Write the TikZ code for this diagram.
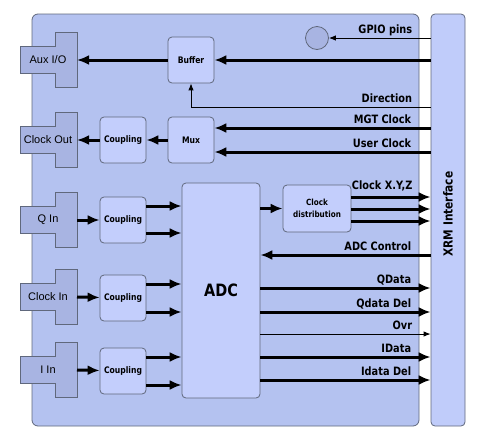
\documentclass[tikz,border=0pt]{standalone}
\usepackage{fontspec}
\setmainfont{Liberation Sans}
\newfontfamily\lbl[FakeStretch=0.85]{DejaVu Sans}
\usetikzlibrary{arrows.meta}

\definecolor{boardblue}{RGB}{180,194,240}
\definecolor{boxblue}{RGB}{195,206,252}
\definecolor{xrmblue}{RGB}{192,204,250}
\definecolor{jackblue}{RGB}{168,180,226}
\definecolor{edgegray}{RGB}{96,104,124}

\begin{document}
\begin{tikzpicture}[x=1pt,y=-1pt]

  %Styles for picture
  \tikzset
  {
  board/.style={draw=edgegray, fill=boardblue, rounded corners=6pt, line width=0.8pt},
  xrmbar/.style={draw=edgegray, fill=xrmblue, rounded corners=4pt, minimum width=34pt, minimum height=412pt, inner sep=0pt, line width=0.8pt},
  block/.style={draw=edgegray, fill=boxblue, rounded corners=4pt, minimum width=46pt, minimum height=46pt, inner sep=0pt, line width=0.8pt, align=center, font=\lbl\bfseries\fontsize{9}{11}\selectfont},
  jack/.style={draw=edgegray, fill=jackblue, line width=0.8pt},
  jacktext/.style={inner sep=0pt, font=\fontsize{11}{13}\selectfont},
  bigarrow/.style={line width=3pt, -{Latex[length=12pt,width=10pt]}},
  thinarrow/.style={line width=0.9pt, -{Latex[length=7pt,width=5.5pt]}},
  siglabel/.style={anchor=base east, xshift=-18pt, yshift=5pt, inner sep=0pt, font=\lbl\bfseries\fontsize{11.5}{13}\selectfont},
  }

  \useasboundingbox (0,0) rectangle (482,445);

  % Board
  \draw[board] (32,14) rectangle (419,426);

  % Jacks
  \foreach \name/\y/\txt in {auxio/60/{Aux I/O}, clkout/140/{Clock Out}, qin/220/{Q In}, clkin/297/{Clock In}, iin/370/{I In}}
  {
    \draw[jack] (77,\y-27.5) -- (55,\y-27.5) -- (55,\y-13.5) -- (20,\y-13.5) -- (20,\y+13.5) -- (55,\y+13.5) -- (55,\y+27.5) -- (77,\y+27.5) -- cycle;
    \node[jacktext] at (48,\y) {\txt};
    \coordinate (\name) at (77,\y);
  }

  % Nodes
  \node[block] (buf) at (191,60) {Buffer};
  \node[block] (mux) at (191,140) {Mux};
  \node[block] (cplout) at (123,140) {Coupling};
  \node[block] (cplq) at (123,220) {Coupling};
  \node[block] (cplclk) at (123,298) {Coupling};
  \node[block] (cpli) at (123,371) {Coupling};
  \node[block, minimum width=78pt, minimum height=215pt, font=\lbl\bfseries\fontsize{17}{19}\selectfont] (adc) at (221,290.5) {ADC};
  \node[block, minimum width=68pt, minimum height=47pt, font=\lbl\bfseries\fontsize{8.5}{12.5}\selectfont] (clkdist) at (317,208.5) {Clock\\distribution};
  \node[circle, draw=edgegray, fill=jackblue, minimum size=23pt, inner sep=0pt, line width=0.8pt] (gpio) at (317,38) {};
  \node[xrmbar] (xrm) at (448,220) {};
  \node[rotate=90, inner sep=0pt, font=\lbl\bfseries\fontsize{12.5}{14}\selectfont] (xrmtext) at (448,214) {XRM Interface};

  % Edges
  \draw[thinarrow] (xrm.west |- gpio) -- (gpio) node[siglabel, pos=0] {GPIO pins};
  \draw[bigarrow] (xrm.west |- buf) -- (buf);
  \draw[bigarrow] (buf) -- (auxio);
  \draw[thinarrow] (xrm.west |- 0,107) -| (buf.south) node[siglabel, pos=0] {Direction};
  \draw[bigarrow] (xrm.west |- 0,128) -- (mux.east |- 0,128) node[siglabel, pos=0] {MGT Clock};
  \draw[bigarrow] (xrm.west |- 0,152) -- (mux.east |- 0,152) node[siglabel, pos=0] {User Clock};
  \draw[bigarrow] (mux) -- (cplout);
  \draw[bigarrow] (cplout) -- (clkout);
  \draw[bigarrow] (qin) -- (cplq);
  \draw[bigarrow] (clkin) -- (cplclk);
  \draw[bigarrow] (iin) -- (cpli);
  \foreach \cpl/\ya/\yb in {cplq/206/233, cplclk/284/312, cpli/357/385}
  {
    \draw[bigarrow] (\cpl.east |- 0,\ya) -- (adc.west |- 0,\ya);
    \draw[bigarrow] (\cpl.east |- 0,\yb) -- (adc.west |- 0,\yb);
  }
  \draw[bigarrow] (adc.east |- clkdist) -- (clkdist);
  \foreach \y in {197,209,221}
    \draw[bigarrow] (clkdist.east |- 0,\y) -- (xrm.west |- 0,\y);
  \node[siglabel, yshift=3pt] (clkxyz) at (xrm.west |- 0,197) {Clock X.Y,Z};
  \draw[bigarrow] (xrm.west |- 0,255) -- (adc.east |- 0,255) node[siglabel, pos=0] {ADC Control};
  \foreach \y/\txt/\sty in {288/QData/bigarrow, 312/Qdata Del/bigarrow, 334/Ovr/thinarrow, 357/IData/bigarrow, 380/Idata Del/bigarrow}
    \draw[\sty] (adc.east |- 0,\y) -- (xrm.west |- 0,\y) node[siglabel, pos=1] {\txt};

\end{tikzpicture}
\end{document}
